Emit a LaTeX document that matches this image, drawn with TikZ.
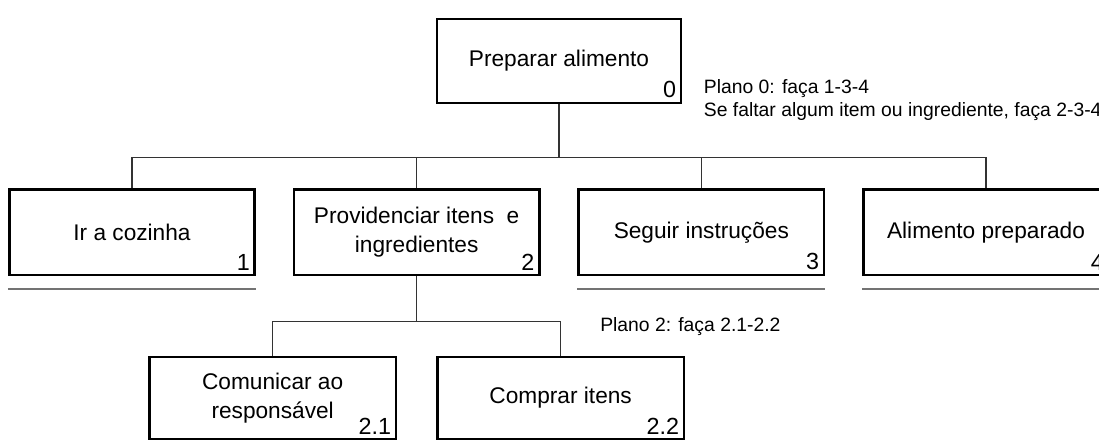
\documentclass[tikz,border=0pt]{standalone}
\usepackage{fontspec}
\setmainfont{Liberation Sans}
\usetikzlibrary{positioning}
\tikzset{
  tarefa/.style = {rectangle, draw=black, line width=2pt, fill=white,
    align=center, inner sep=0pt, font=\fontsize{17}{21.75}\selectfont},% caixa de tarefa
  tarefa_a/.style = {tarefa, minimum width=183pt, minimum height=63pt},% tarefa principal
  tarefa_b/.style = {tarefa, minimum width=184pt, minimum height=64pt},% subtarefa, nivel 1
  tarefa_c/.style = {tarefa, minimum width=185pt, minimum height=61.5pt},% subtarefa, nivel 2
  num/.style = {anchor=south east, inner sep=0pt, xshift=-4.5pt, yshift=4.5pt,
    font=\fontsize{17.5}{20}\selectfont},% numero da tarefa
  plano/.style = {align=left, inner sep=0pt,
    font=\fontsize{14.5}{17.25}\selectfont},% texto do plano
  fim/.style = {draw=black!55, line width=1.5pt}% linha de fim de tarefa
}
\begin{document}
\begin{tikzpicture}[edge from parent/.style={draw=black!80, line width=1.2pt},
  level 1/.style={sibling distance=213.5pt, level distance=128.5pt,
    edge from parent path={(\tikzparentnode.south) -- +(0,-39.75pt) -| (\tikzchildnode.north)}},
  level 2/.style={sibling distance=216pt, level distance=124.25pt,
    edge from parent path={(\tikzparentnode.south) -- +(0,-33.75pt) -| (\tikzchildnode.north)}}]
\useasboundingbox (-419.25pt,-290.25pt) rectangle (405pt,45.75pt);
\node [tarefa_a, label={[num]south east:0}] (n0) {Preparar alimento}
    child{ node [tarefa_b, label={[num]south east:1}] (n1) {Ir a cozinha}}
    child{ node [tarefa_b, label={[num]south east:2}] (n2) {Providenciar itens\ \ e\\ingredientes}
            child{ node [tarefa_c, label={[num]south east:2.1}] (n21) {Comunicar ao\\responsável}}
            child{ node [tarefa_c, label={[num]south east:2.2}] (n22) {Comprar itens}}
    }
    child{ node [tarefa_b, label={[num]south east:3}] (n3) {Seguir instruções}}
    child{ node [tarefa_b, label={[num]south east:4}] (n4) {Alimento preparado}}
;
\foreach \n in {n1,n3,n4}
  \draw [fim] ([yshift=-9.75pt]\n.south west) -- ([yshift=-9.75pt]\n.south east);
\node [plano, anchor=west] (p0) at ([xshift=16pt, yshift=3pt]n0.south east)
  {Plano 0: faça 1-3-4\\Se faltar algum item ou ingrediente, faça 2-3-4};
\node [plano, anchor=west] (p2) at ([xshift=44.5pt, yshift=-38pt]n2.south east)
  {Plano 2: faça 2.1-2.2};
\end{tikzpicture}
\end{document}
